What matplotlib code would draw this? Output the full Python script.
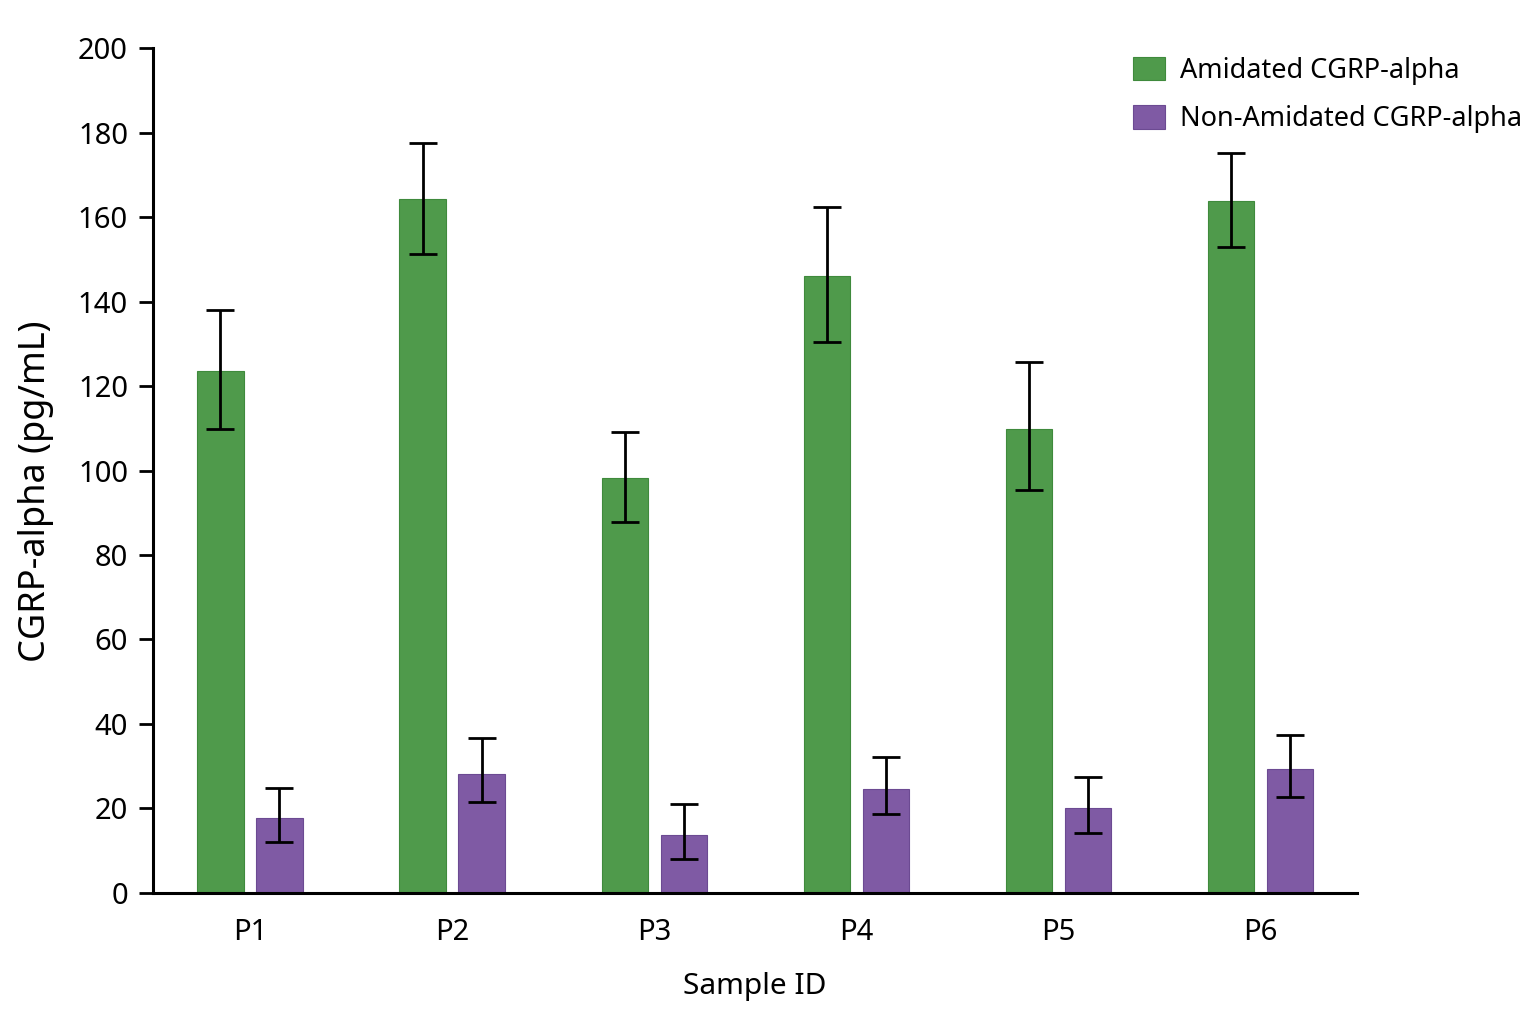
import numpy as np
import matplotlib.pyplot as plt

plt.rcParams['font.family'] = ['Noto Sans', 'DejaVu Sans']

samples = ['P1', 'P2', 'P3', 'P4', 'P5', 'P6']
amidated = [123.5, 164.3, 98.2, 146.0, 109.8, 163.8]
amidated_lo = [13.7, 13.1, 10.4, 15.6, 14.4, 10.9]
amidated_hi = [14.5, 13.2, 10.9, 16.4, 15.9, 11.3]
non_amidated = [17.8, 28.2, 13.7, 24.6, 20.1, 29.3]
non_lo = [5.7, 6.7, 5.7, 5.9, 5.9, 6.6]
non_hi = [7.1, 8.5, 7.4, 7.6, 7.4, 8.1]

green = '#4f9a4b'
purple = '#7f5aa4'

fig = plt.figure(figsize=(15.36, 10.24), dpi=100)
ax = fig.add_axes([0.0996, 0.128, 0.784, 0.825])

x = np.arange(len(samples))
w = 0.228
off = 0.146
err_kw = dict(ecolor='black', elinewidth=2.0, capsize=10, capthick=2.0)
ax.bar(x - off, amidated, w, color=green, edgecolor='#3f8a3c', linewidth=0.8,
       yerr=[amidated_lo, amidated_hi], error_kw=err_kw, label='Amidated CGRP-alpha')
ax.bar(x + off, non_amidated, w, color=purple, edgecolor='#6c4a92', linewidth=0.8,
       yerr=[non_lo, non_hi], error_kw=err_kw, label='Non-Amidated CGRP-alpha')

ax.set_xlim(-0.48, 5.48)
ax.set_ylim(0, 200)
ax.set_yticks(range(0, 201, 20))
ax.set_xticks(x)
ax.set_xticklabels(samples)
ax.tick_params(axis='x', length=0, pad=18, labelsize=21)
ax.tick_params(axis='y', length=10, width=2, pad=8, labelsize=21)
for s in ['top', 'right']:
    ax.spines[s].set_visible(False)
for s in ['left', 'bottom']:
    ax.spines[s].set_linewidth(2.2)

ax.set_xlabel('Sample ID', fontsize=21.5, labelpad=18)
ax.set_ylabel('CGRP-alpha (pg/mL)', fontsize=26)
ax.yaxis.set_label_coords(-0.082, 0.476)

fig.legend(loc='upper right', bbox_to_anchor=(1.003, 0.963), frameon=False,
           fontsize=19.5, handlelength=1.15, handleheight=0.95, handletextpad=0.55,
           labelspacing=0.75, borderaxespad=0.3)

fig.savefig('out.png', dpi=100, facecolor='white')
